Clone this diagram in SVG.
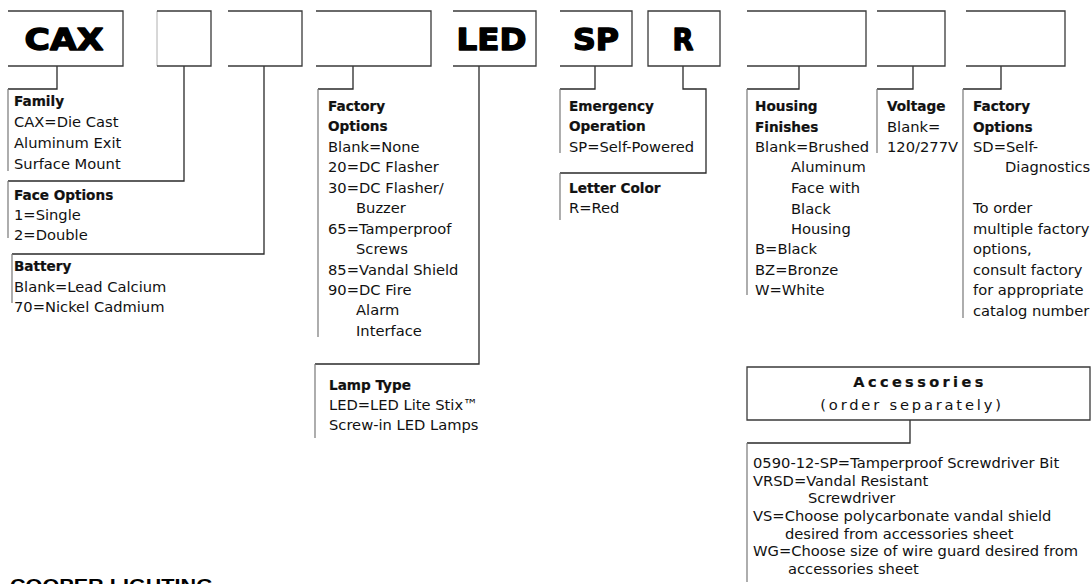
<svg xmlns="http://www.w3.org/2000/svg" width="1092" height="584" viewBox="0 0 1092 584">
<style>
.b{fill:none;stroke:#3a3a3a;stroke-width:1.3}
.bl{fill:none;stroke:#b0b0b0;stroke-width:1}
.c{fill:none;stroke:#2a2a2a;stroke-width:1.3}
.l{fill:none;stroke:#777;stroke-width:1.2}
.t{font-family:"DejaVu Sans","Liberation Sans",sans-serif;font-size:14.7px;fill:#111}
.h{font-family:"DejaVu Sans","Liberation Sans",sans-serif;font-size:13.6px;font-weight:bold;fill:#111;stroke:#111;stroke-width:0.2}
.big{font-family:"DejaVu Sans","Liberation Sans",sans-serif;font-size:31px;font-weight:bold;fill:#000;stroke:#000;stroke-width:1.4;stroke-linejoin:round}
</style>
<rect width="1092" height="584" fill="#fff"/>
<g id="connectors">
<path class="c" d="M57,66V89H8"/><path class="l" d="M8,89V171"/>
<path class="c" d="M184,66V181H8"/><path class="l" d="M8,181V238"/>
<path class="c" d="M264,66V254H12"/><path class="l" d="M12,254V303"/>
<path class="c" d="M353,66V89H318"/><path class="l" d="M318,89V337"/>
<path class="c" d="M479,66V364H315"/><path class="l" d="M315,364V438"/>
<path class="c" d="M595,66V89H560"/><path class="l" d="M560,89V153"/>
<path class="c" d="M683,66V89H706V173H560"/><path class="l" d="M560,173V220"/>
<path class="c" d="M799,66V89H747"/><path class="l" d="M747,89V295"/>
<path class="c" d="M913,66V89H877"/><path class="l" d="M877,89V153"/>
<path class="c" d="M1001,66V89H963"/><path class="l" d="M963,89V318"/>
<path class="c" d="M910,420V443H747"/><path class="l" d="M747,443V582"/>
</g>
<g id="box-cax"><path class="b" d="M8,11H123V66H8"/><text class="big" x="64" y="50" text-anchor="middle" textLength="79" lengthAdjust="spacingAndGlyphs">CAX</text></g>
<g id="box-face"><path class="bl" d="M157,11V66"/><path class="b" d="M157,11H211V66H157"/></g>
<g id="box-battery"><path class="b" d="M228,11H302V66H228"/></g>
<g id="box-factory-options"><path class="b" d="M316,11H431V66H316"/></g>
<g id="box-led"><path class="b" d="M453,11H536V66H453"/><text class="big" x="491.5" y="50" text-anchor="middle" textLength="70" lengthAdjust="spacingAndGlyphs">LED</text></g>
<g id="box-sp"><path class="b" d="M560,11H632V66H560"/><text class="big" x="596" y="50" text-anchor="middle" textLength="46" lengthAdjust="spacingAndGlyphs">SP</text></g>
<g id="box-r"><path class="b" d="M648,11H720V66H648Z"/><text class="big" x="683" y="50" text-anchor="middle" textLength="21" lengthAdjust="spacingAndGlyphs">R</text></g>
<g id="box-housing"><path class="b" d="M747,11H866V66H747"/></g>
<g id="box-voltage"><path class="b" d="M877,11H945V66H877"/></g>
<g id="box-factory-options-2"><path class="b" d="M966,11H1065V66H966"/></g>
<g id="family">
<text class="h" x="14" y="106">Family</text>
<text class="t" x="14" y="127">CAX=Die Cast</text>
<text class="t" x="14" y="148">Aluminum Exit</text>
<text class="t" x="14" y="169">Surface Mount</text>
</g>
<g id="face-options">
<text class="h" x="14" y="200">Face Options</text>
<text class="t" x="14" y="220">1=Single</text>
<text class="t" x="14" y="240">2=Double</text>
</g>
<g id="battery">
<text class="h" x="14" y="271">Battery</text>
<text class="t" x="14" y="292">Blank=Lead Calcium</text>
<text class="t" x="14" y="312">70=Nickel Cadmium</text>
</g>
<g id="factory-options">
<text class="h" x="328" y="111">Factory</text>
<text class="h" x="328" y="131">Options</text>
<text class="t" x="328" y="152">Blank=None</text>
<text class="t" x="328" y="172">20=DC Flasher</text>
<text class="t" x="328" y="193">30=DC Flasher/</text>
<text class="t" x="356" y="213">Buzzer</text>
<text class="t" x="328" y="234">65=Tamperproof</text>
<text class="t" x="356" y="254">Screws</text>
<text class="t" x="328" y="275">85=Vandal Shield</text>
<text class="t" x="328" y="295">90=DC Fire</text>
<text class="t" x="356" y="315">Alarm</text>
<text class="t" x="356" y="336">Interface</text>
</g>
<g id="lamp-type">
<text class="h" x="329" y="390">Lamp Type</text>
<text class="t" x="329" y="410">LED=LED Lite Stix™</text>
<text class="t" x="329" y="430">Screw-in LED Lamps</text>
</g>
<g id="emergency">
<text class="h" x="569" y="111">Emergency</text>
<text class="h" x="569" y="131">Operation</text>
<text class="t" x="569" y="152">SP=Self-Powered</text>
</g>
<g id="letter-color">
<text class="h" x="569" y="193">Letter Color</text>
<text class="t" x="569" y="213">R=Red</text>
</g>
<g id="housing">
<text class="h" x="755" y="111">Housing</text>
<text class="h" x="755" y="132">Finishes</text>
<text class="t" x="755" y="152">Blank=Brushed</text>
<text class="t" x="791" y="172">Aluminum</text>
<text class="t" x="791" y="193">Face with</text>
<text class="t" x="791" y="214">Black</text>
<text class="t" x="791" y="234">Housing</text>
<text class="t" x="755" y="254">B=Black</text>
<text class="t" x="755" y="275">BZ=Bronze</text>
<text class="t" x="755" y="295">W=White</text>
</g>
<g id="voltage">
<text class="h" x="887" y="111">Voltage</text>
<text class="t" x="887" y="132">Blank=</text>
<text class="t" x="887" y="152">120/277V</text>
</g>
<g id="factory-options-2">
<text class="h" x="973" y="111">Factory</text>
<text class="h" x="973" y="132">Options</text>
<text class="t" x="973" y="152">SD=Self-</text>
<text class="t" x="1005" y="172">Diagnostics</text>
<text class="t" x="973" y="213">To order</text>
<text class="t" x="973" y="234">multiple factory</text>
<text class="t" x="973" y="254">options,</text>
<text class="t" x="973" y="275">consult factory</text>
<text class="t" x="973" y="295">for appropriate</text>
<text class="t" x="973" y="316">catalog number</text>
</g>
<g id="accessories">
<path class="b" d="M747,367H1090V420H747Z"/>
<text class="h" x="920" y="387" text-anchor="middle" style="font-size:14.5px;letter-spacing:3.4px">Accessories</text>
<text class="t" x="912" y="410" text-anchor="middle" style="letter-spacing:2.8px">(order separately)</text>
</g>
<g id="accessories-list">
<text class="t" x="753" y="468">0590-12-SP=Tamperproof Screwdriver Bit</text>
<text class="t" x="753" y="486">VRSD=Vandal Resistant</text>
<text class="t" x="808" y="503">Screwdriver</text>
<text class="t" x="753" y="521">VS=Choose polycarbonate vandal shield</text>
<text class="t" x="785" y="539">desired from accessories sheet</text>
<text class="t" x="753" y="556">WG=Choose size of wire guard desired from</text>
<text class="t" x="788" y="574">accessories sheet</text>
</g>
<text x="10" y="592" style="font-family:'Liberation Sans',Arial,sans-serif;font-size:19px;font-weight:bold;fill:#000" textLength="203" lengthAdjust="spacingAndGlyphs">COOPER LIGHTING</text>
</svg>
